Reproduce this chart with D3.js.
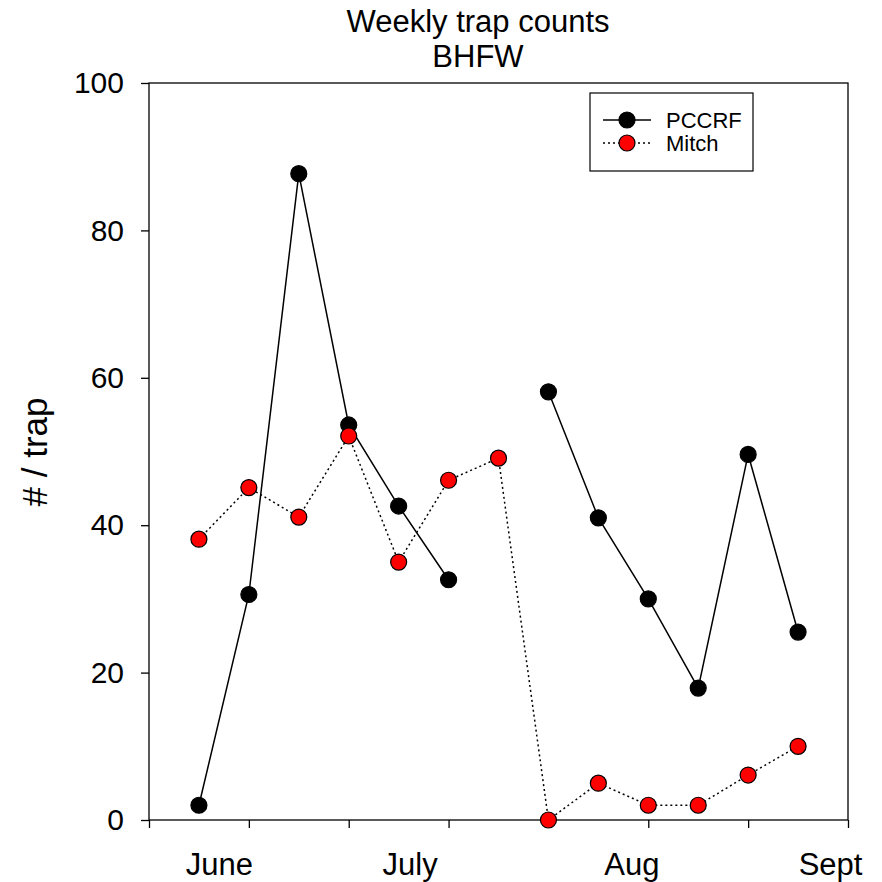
<!DOCTYPE html>
<html>
<head>
<meta charset="utf-8">
<script src="https://cdn.jsdelivr.net/npm/d3@7"></script>
<style>
  body { margin: 0; background: #fff; }
  text { font-family: "Liberation Sans", Arial, sans-serif; fill: #000; }
</style>
</head>
<body>
<div class="chart"></div>
<script>
// week index of each sample (one per week)
var weeks = [0, 1, 2, 3, 4, 5, 6, 7, 8, 9, 10, 11, 12];
// PCCRF counts, null = no sample that week
var pccrf = [2.0, 30.6, 87.7, 53.6, 42.6, 32.6, null, 58.1, 41.0, 30.0, 17.9, 49.6, 25.5];
var mitch = [38.1, 45.1, 41.1, 52.1, 35.0, 46.1, 49.1, 0.0, 5.0, 2.0, 2.0, 6.1, 10.0];
// month labels and where they sit on the week axis
var months = ["June", "July", "Aug", "Sept"];
var monthPos = [0.4, 4.22, 8.66, 12.64];
var xTicks = [-1, 1, 3, 5, 7, 9, 11, 13];
var yTicks = [0, 20, 40, 60, 80, 100];
var seriesNames = ["PCCRF", "Mitch"];

var width = 882;
var height = 882;
var margin = {top: 83, right: 34, bottom: 62, left: 149};

var svg = d3.select('.chart')
    .append('svg')
    .attr('width', width)
    .attr('height', height);

var x = d3.scaleLinear()
    .domain([-1, 13])
    .range([margin.left, width - margin.right]);
var y = d3.scaleLinear()
    .domain([0, 100])
    .range([height - margin.bottom, margin.top]);

//frame round the plot
svg.append('rect')
    .attr('x', x(-1))
    .attr('y', y(100))
    .attr('width', x(13) - x(-1))
    .attr('height', y(0) - y(100))
    .attr('fill', 'none')
    .attr('stroke', '#000')
    .attr('stroke-width', 1.3);

//bottom ticks, no labels
svg.append('g')
    .attr('transform', 'translate(0,' + y(0) + ')')
    .call(d3.axisBottom(x).tickValues(xTicks).tickSize(8).tickFormat(''))
    .call(function(g) { g.select('.domain').remove(); })
    .selectAll('line').attr('stroke-width', 1.3);

//month labels sit between the ticks
svg.append('g')
    .attr('transform', 'translate(0,' + y(0) + ')')
    .call(d3.axisBottom(x).tickValues(monthPos).tickSize(0).tickPadding(33)
        .tickFormat(function(d, i) { return months[i]; }))
    .call(function(g) { g.select('.domain').remove(); })
    .selectAll('text')
    .attr('font-size', '31px')
    .style('font-family', '"Liberation Sans", Arial, sans-serif');

svg.append('g')
    .attr('transform', 'translate(' + x(-1) + ',0)')
    .call(d3.axisLeft(y).tickValues(yTicks).tickSize(8).tickPadding(17))
    .call(function(g) { g.select('.domain').remove(); })
    .call(function(g) { g.selectAll('line').attr('stroke-width', 1.3); })
    .selectAll('text')
    .attr('font-size', '30px')
    .style('font-family', '"Liberation Sans", Arial, sans-serif');

//titles
svg.append('text')
    .attr('x', 478)
    .attr('y', 32)
    .attr('text-anchor', 'middle')
    .attr('font-size', '31px')
    .text('Weekly trap counts');
svg.append('text')
    .attr('x', 478)
    .attr('y', 67)
    .attr('text-anchor', 'middle')
    .attr('font-size', '31px')
    .text('BHFW');
svg.append('text')
    .attr('transform', 'translate(47,' + 452 + ') rotate(-90)')
    .attr('text-anchor', 'middle')
    .attr('font-size', '35px')
    .text('# / trap');

var line = d3.line()
    .defined(function(d) { return d[1] !== null; })
    .x(function(d) { return x(d[0]); })
    .y(function(d) { return y(d[1]); });

function pairs(values) {
    return weeks.map(function(w, i) { return [w, values[i]]; });
}

var styles = [
    {values: pccrf, fill: '#000', dash: null},
    {values: mitch, fill: '#ff0000', dash: '2,3'}
];

styles.forEach(function(s) {
    svg.append('path')
        .datum(pairs(s.values))
        .attr('d', line)
        .attr('fill', 'none')
        .attr('stroke', '#000')
        .attr('stroke-width', 1.5)
        .attr('stroke-dasharray', s.dash);
});

styles.forEach(function(s) {
    svg.append('g')
        .selectAll('circle')
        .data(pairs(s.values).filter(function(d) { return d[1] !== null; }))
        .enter()
        .append('circle')
        .attr('cx', function(d) { return x(d[0]); })
        .attr('cy', function(d) { return y(d[1]); })
        .attr('r', 8)
        .attr('fill', s.fill)
        .attr('stroke', '#000')
        .attr('stroke-width', 1.2);
});

//legend
var legend = svg.append('g').attr('transform', 'translate(590,93)');
legend.append('rect')
    .attr('width', 163)
    .attr('height', 78)
    .attr('fill', '#fff')
    .attr('stroke', '#000')
    .attr('stroke-width', 1.2);
var rows = legend.selectAll('.row')
    .data(styles)
    .enter()
    .append('g')
    .attr('class', 'row')
    .attr('transform', function(d, i) { return 'translate(0,' + (27 + i * 23) + ')'; });
rows.append('line')
    .attr('x1', 13)
    .attr('x2', 61)
    .attr('stroke', '#000')
    .attr('stroke-width', 1.5)
    .attr('stroke-dasharray', function(d) { return d.dash; });
rows.append('circle')
    .attr('cx', 37)
    .attr('r', 8)
    .attr('fill', function(d) { return d.fill; })
    .attr('stroke', '#000')
    .attr('stroke-width', 1.2);
rows.append('text')
    .attr('x', 76)
    .attr('dy', '0.35em')
    .attr('font-size', '22px')
    .text(function(d, i) { return seriesNames[i]; });
</script>
</body>
</html>
